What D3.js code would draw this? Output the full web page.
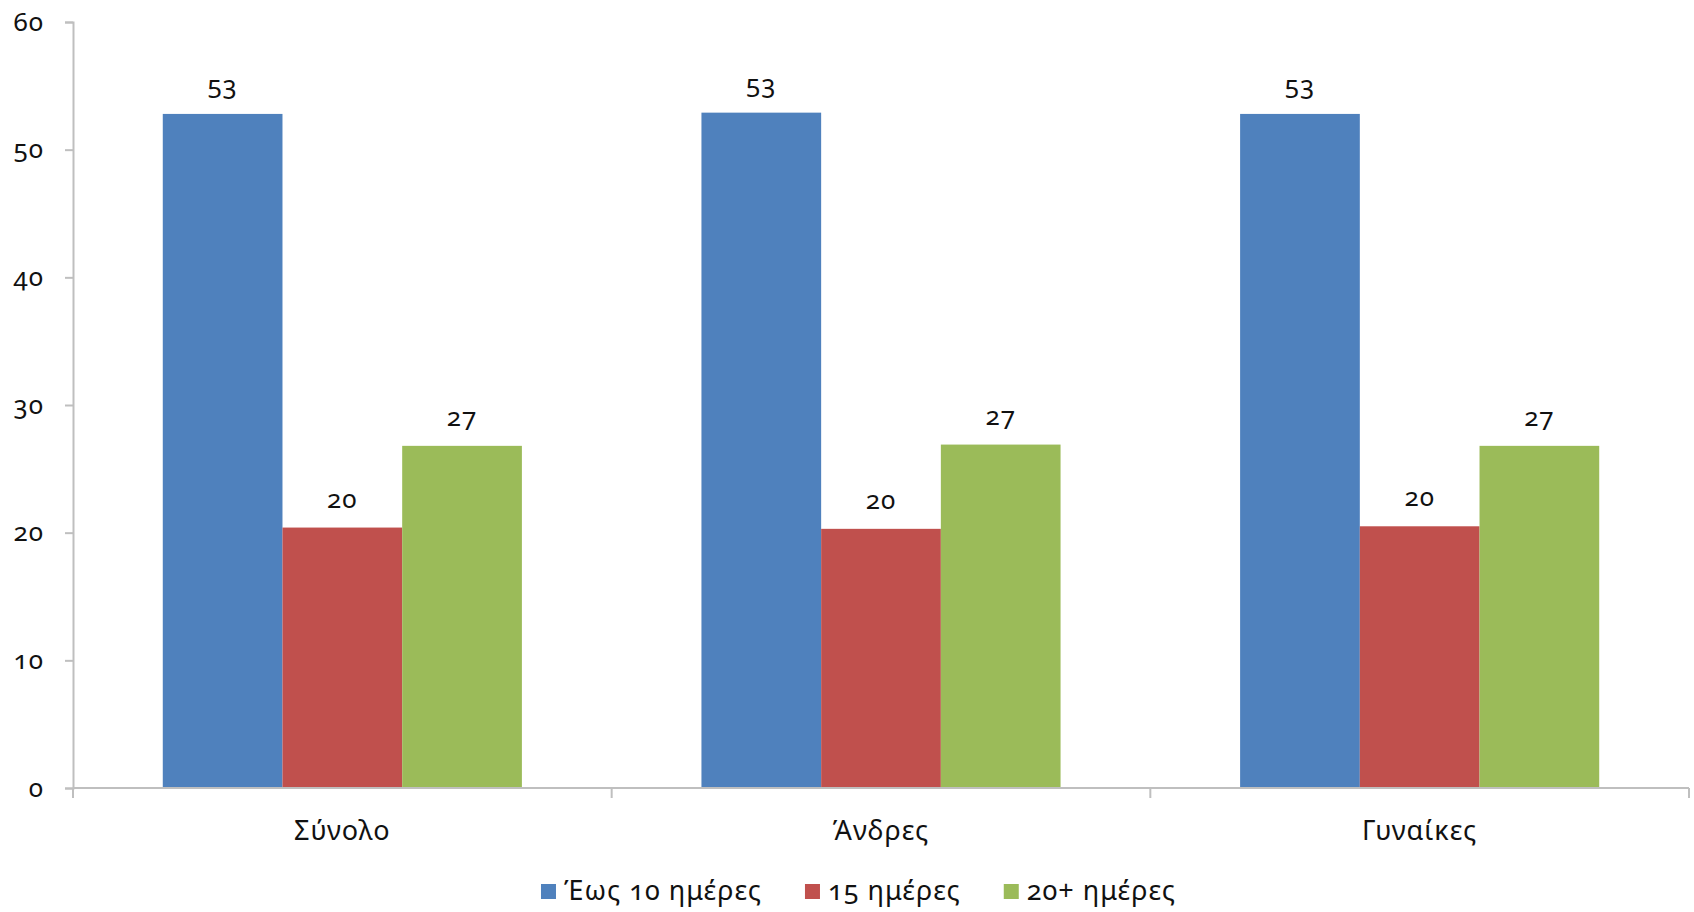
<!DOCTYPE html>
<html>
<head>
<meta charset="utf-8">
<script src="https://cdn.jsdelivr.net/npm/d3@7"></script>
<style>
  html, body { margin: 0; padding: 0; background: #fff; }
  svg text { font-family: "Noto Sans", "Open Sans", sans-serif; font-variant-numeric: oldstyle-nums; fill: #111; letter-spacing: 1px; }
</style>
</head>
<body>
<svg id="chart" width="1694" height="912"></svg>
<script>
const categories = ["Σύνολο", "Άνδρες", "Γυναίκες"];
const seriesNames = ["Έως 10 ημέρες", "15 ημέρες", "20+ ημέρες"];
const seriesColors = ["#4f81bd", "#c0504d", "#9bbb59"];
const valuesUpTo10 = [52.8, 52.9, 52.8];
const values15 = [20.4, 20.3, 20.5];
const values20plus = [26.8, 26.9, 26.8];
const labelsUpTo10 = ["53", "53", "53"];
const labels15 = ["20", "20", "20"];
const labels20plus = ["27", "27", "27"];
const yTicks = [0, 10, 20, 30, 40, 50, 60];

const seriesValues = [valuesUpTo10, values15, values20plus];
const seriesLabels = [labelsUpTo10, labels15, labels20plus];

(function () {
const svg = d3.select("#chart");
const mLeft = 73, mRight = 1689, mTop = 22, mBottom = 788;
const axisColor = "#bfbfbf";

const y = d3.scaleLinear().domain([0, 60]).range([mBottom, mTop]);
const x0 = d3.scaleBand().domain(categories).range([mLeft, mRight]).paddingInner(0).paddingOuter(0);
// Excel gap width 150%: bar width = band / (3 + 1.5)
const barW = x0.bandwidth() / 4.5;
const x1 = d3.scaleBand().domain(seriesNames).range([0, barW * 3]);

// Bars
const g = svg.append("g");
categories.forEach((c, ci) => {
  const gx = x0(c) + (x0.bandwidth() - barW * 3) / 2;
  seriesNames.forEach((s, si) => {
    const v = seriesValues[si][ci];
    g.append("rect")
      .attr("x", gx + x1(s))
      .attr("y", y(v))
      .attr("width", x1.bandwidth())
      .attr("height", y(0) - y(v))
      .attr("fill", seriesColors[si]);
    g.append("text")
      .attr("x", gx + x1(s) + x1.bandwidth() / 2)
      .attr("y", y(v) - 20)
      .attr("text-anchor", "middle")
      .attr("font-size", 26)
      .text(seriesLabels[si][ci]);
  });
});

// Y axis
const yAxis = d3.axisLeft(y).tickValues(yTicks).tickSize(8).tickPadding(21).tickFormat(d3.format("d"));
const ya = svg.append("g").attr("transform", `translate(${mLeft},0)`).call(yAxis);
ya.select(".domain").attr("stroke", axisColor).attr("stroke-width", 2);
ya.selectAll(".tick line").attr("stroke", axisColor).attr("stroke-width", 2);
ya.selectAll(".tick text").attr("font-size", 26).attr("fill", "#111")
  .style("font-family", "\"Noto Sans\", sans-serif").style("font-variant-numeric", "oldstyle-nums");

// X axis
const xa = svg.append("g").attr("transform", `translate(0,${mBottom})`);
xa.append("line").attr("x1", mLeft).attr("x2", mRight).attr("y1", 0).attr("y2", 0)
  .attr("stroke", axisColor).attr("stroke-width", 2);
const boundaries = categories.map(c => x0(c)).concat([mRight]);
xa.selectAll("line.tk").data(boundaries).enter().append("line")
  .attr("class", "tk")
  .attr("x1", d => d).attr("x2", d => d).attr("y1", 0).attr("y2", 10)
  .attr("stroke", axisColor).attr("stroke-width", 2);
xa.selectAll("text.cat").data(categories).enter().append("text")
  .attr("class", "cat")
  .attr("x", d => x0(d) + x0.bandwidth() / 2)
  .attr("y", 52)
  .attr("text-anchor", "middle")
  .attr("font-size", 27)
  .text(d => d);

// Legend
const legend = svg.append("g");
const sq = 15, sqGap = 8, itemGap = 43;
const items = seriesNames.map((s, i) => {
  const t = legend.append("text").attr("font-size", 27).attr("y", 900).text(s);
  return { t, w: t.node().getComputedTextLength(), i };
});
const total = items.reduce((a, it) => a + sq + sqGap + it.w, 0) + itemGap * (items.length - 1);
let cx = 858.5 - total / 2;
items.forEach(it => {
  legend.append("rect").attr("x", cx).attr("y", 884).attr("width", sq).attr("height", sq)
    .attr("fill", seriesColors[it.i]);
  it.t.attr("x", cx + sq + sqGap);
  cx += sq + sqGap + it.w + itemGap;
});
})();
</script>
</body>
</html>
